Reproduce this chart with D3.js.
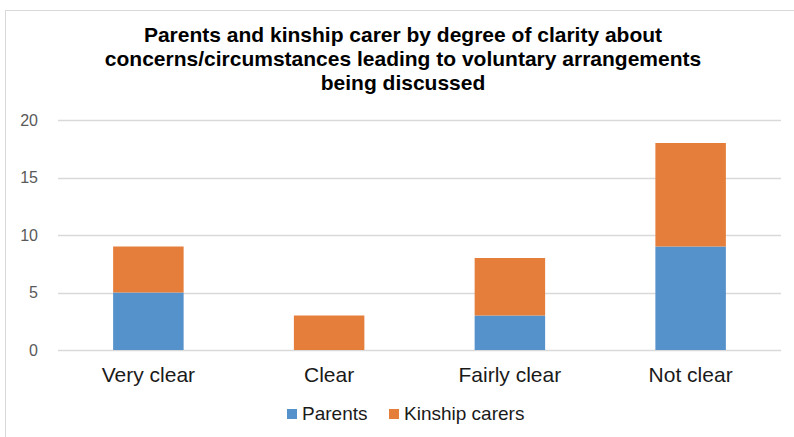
<!DOCTYPE html>
<html>
<head>
<meta charset="utf-8">
<script src="https://cdn.jsdelivr.net/npm/d3@7"></script>
<style>
  body { margin: 0; background: #fff; }
  text { font-family: "Liberation Sans", Arial, sans-serif; }
</style>
</head>
<body>
<svg id="chart" width="794" height="437"></svg>
<script>
// chart data
const categories = ["Very clear", "Clear", "Fairly clear", "Not clear"];
const parents = [5, 0, 3, 9];
const kinship = [4, 3, 5, 9];
const seriesNames = ["Parents", "Kinship carers"];
const seriesColors = ["#5591cb", "#e57e3b"];
const yTicks = [0, 5, 10, 15, 20];
const titleLines = [
    "Parents and kinship carer by degree of clarity about",
    "concerns/circumstances leading to voluntary arrangements",
    "being discussed"
];

const svg = d3.select("#chart");

// outer frame like the spreadsheet chart area
svg.append("rect")
    .attr("x", 5.5).attr("y", 10.5)
    .attr("width", 820).attr("height", 460)
    .attr("fill", "#fff")
    .attr("stroke", "#d9d9d9");

const plot = { left: 58, right: 781, top: 120, bottom: 350 };

const x = d3.scaleBand()
    .domain(categories)
    .range([plot.left, plot.right])
    .paddingInner(0.61)
    .paddingOuter(0.305);

const y = d3.scaleLinear()
    .domain([0, 20])
    .range([plot.bottom, plot.top]);

// title, three lines
svg.append("text")
    .attr("x", 403)
    .attr("y", 42)
    .attr("text-anchor", "middle")
    .style("font-size", "21px")
    .style("font-weight", "bold")
    .attr("fill", "#000")
    .selectAll("tspan")
    .data(titleLines)
    .enter().append("tspan")
    .attr("x", 403)
    .attr("dy", (d, i) => i === 0 ? 0 : 24)
    .text(d => d);

// gridlines
svg.append("g")
    .selectAll("line")
    .data(yTicks)
    .enter().append("line")
    .attr("x1", plot.left).attr("x2", plot.right)
    .attr("y1", d => Math.round(y(d)) + 0.5)
    .attr("y2", d => Math.round(y(d)) + 0.5)
    .attr("stroke", "#d9d9d9")
    .attr("stroke-width", 1.3);

// y tick labels
svg.append("g")
    .selectAll("text")
    .data(yTicks)
    .enter().append("text")
    .attr("x", 38)
    .attr("y", d => y(d))
    .attr("dy", "0.35em")
    .attr("text-anchor", "end")
    .style("font-size", "16px")
    .attr("fill", "#595959")
    .text(d => d);

// stacked bars
const rows = categories.map((c, i) => ({ cat: c, Parents: parents[i], "Kinship carers": kinship[i] }));
const stacked = d3.stack().keys(seriesNames)(rows);

svg.append("g")
    .selectAll("g")
    .data(stacked)
    .enter().append("g")
    .attr("fill", (d, i) => seriesColors[i])
    .selectAll("rect")
    .data(d => d)
    .enter().append("rect")
    .attr("x", d => x(d.data.cat))
    .attr("width", x.bandwidth())
    .attr("y", d => y(d[1]))
    .attr("height", d => y(d[0]) - y(d[1]));

// category labels
svg.append("g")
    .selectAll("text")
    .data(categories)
    .enter().append("text")
    .attr("x", d => x(d) + x.bandwidth() / 2)
    .attr("y", 382)
    .attr("text-anchor", "middle")
    .style("font-size", "21px")
    .attr("fill", "#1a1a1a")
    .text(d => d);

// legend
const legendX = [287, 389];
const legend = svg.append("g")
    .selectAll("g")
    .data(seriesNames)
    .enter().append("g")
    .attr("transform", (d, i) => `translate(${legendX[i]},0)`);

legend.append("rect")
    .attr("x", 0).attr("y", 409)
    .attr("width", 10).attr("height", 10)
    .attr("fill", (d, i) => seriesColors[i]);

legend.append("text")
    .attr("x", 15).attr("y", 420)
    .style("font-size", "19px")
    .attr("fill", "#1a1a1a")
    .text(d => d);
</script>
</body>
</html>
